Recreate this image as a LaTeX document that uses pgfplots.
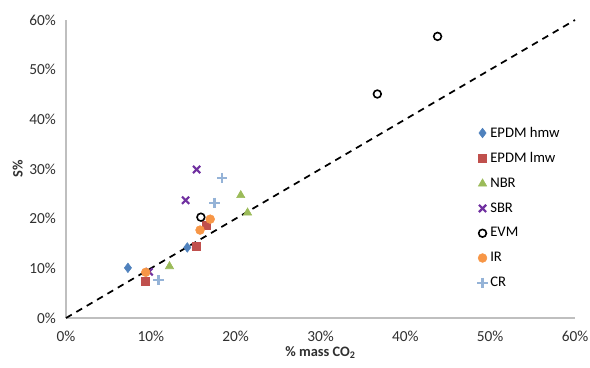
\documentclass[border=0pt]{standalone}
\usepackage{pgfplots}
\pgfplotsset{compat=1.18}
\usepackage{fontspec}
\setmainfont{Carlito}
\definecolor{cblue}{HTML}{4F81BD}
\definecolor{cred}{HTML}{C0504D}
\definecolor{cgreen}{HTML}{9BBB59}
\definecolor{cpurple}{HTML}{7030A0}
\definecolor{corange}{HTML}{F79646}
\definecolor{clblue}{HTML}{95B3D7}
\definecolor{axgray}{HTML}{BFBFBF}
\definecolor{txt}{HTML}{303030}
\begin{document}
\begin{tikzpicture}
\begin{axis}[
  name=ax,
  scale only axis,
  width=381.75pt, height=223.5pt,
  xmin=0, xmax=60, ymin=0, ymax=60,
  xtick={0,10,...,60}, ytick={0,10,...,60},
  xticklabel={\pgfmathprintnumber{\tick}\%},
  yticklabel={\pgfmathprintnumber{\tick}\%},
  /pgf/number format/assume math mode=true,
  axis lines=left,
  axis line style={axgray, line width=0.8pt, -},
  tick style={draw=none},
  ticklabel style={font=\fontsize{11.5}{13}\selectfont, text=txt},
  xticklabel style={yshift=-4pt},
  yticklabel style={xshift=-2pt},
  xlabel={\textbf{\% mass CO\textsubscript{2}}},
  ylabel={\textbf{S\%}},
  label style={font=\fontsize{10.8}{12}\selectfont, text=txt},
  xlabel style={yshift=3pt},
  ylabel style={yshift=-2pt},
  clip=false,
  legend style={at={(0.8,0.66)}, anchor=north west, draw=none, fill=none,
    font=\fontsize{11}{13}\selectfont, row sep=6pt, text=black},
  legend cell align=left,
]
\addplot[only marks, mark=diamond*, mark size=3.6pt, color=cblue, mark options={fill=cblue}]
  coordinates {(7.3,10.1) (14.3,14.2)};
\addlegendentry{EPDM hmw}
\addplot[only marks, mark=square*, mark size=3pt, color=cred, mark options={fill=cred}]
  coordinates {(9.4,7.4) (15.3,14.4) (16.5,18.7)};
\addlegendentry{EPDM lmw}
\addplot[only marks, mark=triangle*, mark size=3.6pt, color=cgreen, mark options={fill=cgreen}]
  coordinates {(12.2,10.4) (20.6,24.7) (21.4,21.2)};
\addlegendentry{NBR}
\addplot[only marks, mark=x, mark size=3.8pt, color=cpurple, mark options={line width=1.6pt}]
  coordinates {(15.4,29.9) (14.1,23.7) (9.8,9.3)};
\addlegendentry{SBR}
\addplot[only marks, mark=o, mark size=2.9pt, color=black, mark options={line width=1.2pt, fill=white}]
  coordinates {(15.9,20.3) (36.7,45.1) (43.8,56.7)};
\addlegendentry{EVM}
\addplot[only marks, mark=*, mark size=3.3pt, color=corange, mark options={fill=corange}]
  coordinates {(9.4,9.2) (15.8,17.7) (17.0,19.9)};
\addlegendentry{IR}
\addplot[only marks, mark=+, mark size=3.8pt, color=clblue, mark options={line width=1.7pt}]
  coordinates {(10.9,7.6) (17.5,23.2) (18.4,28.2)};
\addlegendentry{CR}
\addplot[black, dashed, line width=1.3pt, dash pattern=on 5pt off 4pt, forget plot]
  coordinates {(0,0) (60,60)};
\end{axis}
\pgfresetboundingbox
\path (ax.south west) ++(-49.5pt,-36.75pt) coordinate (bl);
\path (ax.north east) ++(11.25pt,15pt) coordinate (tr);
\path[use as bounding box] (bl) rectangle (tr);
\end{tikzpicture}
\end{document}
